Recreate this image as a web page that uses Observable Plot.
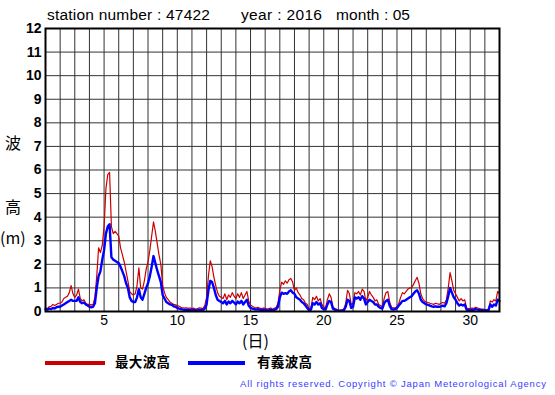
<!DOCTYPE html>
<html>
<head>
<meta charset="utf-8">
<script src="https://cdn.jsdelivr.net/npm/d3@7"></script>
<script src="https://cdn.jsdelivr.net/npm/@observablehq/plot@0.6"></script>
<style>
  html, body { margin: 0; padding: 0; background: #fff; }
  #wrap { position: relative; width: 555px; height: 395px; overflow: hidden; font-family: "Liberation Sans", Arial, sans-serif; }
  #wrap svg { position: absolute; left: 0; top: 0; }
  .t { position: absolute; white-space: nowrap; line-height: 1; }
</style>
</head>
<body>
<div id="wrap"></div>
<script>
// Title parts
const stationText = "station number : 47422";
const yearText = "year : 2016";
const monthText = "month : 05";
const yLabelParts = ["波", "高", "(m)"];
const xLabel = "(日)";
const seriesNames = ["最大波高", "有義波高"];
const seriesColors = ["#cc0000", "#0000ff"];
const copyright = "All rights reserved. Copyright © Japan Meteorological Agency";

// Axes
const xTicks = [5, 10, 15, 20, 25, 30];
const yTicks = [0, 1, 2, 3, 4, 5, 6, 7, 8, 9, 10, 11, 12];
const xGrid = [2,3,4,5,6,7,8,9,10,11,12,13,14,15,16,17,18,19,20,21,22,23,24,25,26,27,28,29,30,31];
const yGrid = [1,2,3,4,5,6,7,8,9,10,11];

// Samples every 3 hours starting at day 1 00:00 (8 per day)
const maxWave = [
  0.15,0.12,0.20,0.22,0.30,0.25,0.30,0.35,  // 1
  0.35,0.40,0.55,0.60,0.65,0.80,1.10,0.75,  // 2
  0.60,0.70,0.95,0.55,0.45,0.50,0.35,0.30,  // 3
  0.30,0.28,0.30,0.60,1.50,2.70,2.50,2.80,  // 4
  3.60,5.20,5.80,5.90,3.60,3.30,3.40,3.30,  // 5
  3.20,2.70,2.40,2.10,1.70,1.30,0.85,0.75,  // 6
  0.70,0.75,1.10,1.85,1.00,0.95,1.30,1.80,  // 7
  2.10,2.60,3.20,3.80,3.40,2.90,2.40,2.00,  // 8
  1.10,0.80,0.60,0.50,0.40,0.35,0.30,0.28,  // 9
  0.25,0.22,0.18,0.15,0.14,0.16,0.13,0.15,  // 10
  0.12,0.14,0.10,0.12,0.16,0.14,0.12,0.25,  // 11
  0.60,1.50,2.15,1.90,1.45,1.10,0.80,0.65,  // 12
  0.60,0.55,0.75,0.50,0.70,0.60,0.80,0.65,  // 13
  0.55,0.75,0.60,0.80,0.55,0.70,0.85,0.45,  // 14
  0.28,0.22,0.18,0.15,0.18,0.14,0.12,0.15,  // 15
  0.13,0.10,0.12,0.15,0.10,0.13,0.18,0.35,  // 16
  0.90,1.25,1.15,1.30,1.20,1.35,1.40,1.25,  // 17
  0.90,1.00,0.80,0.70,0.55,0.50,0.35,0.30,  // 18
  0.10,0.15,0.60,0.50,0.65,0.45,0.55,0.30,  // 19
  0.20,0.15,0.50,0.75,0.60,0.20,0.12,0.10,  // 20
  0.05,0.05,0.06,0.10,0.35,0.90,0.75,0.30,  // 21
  0.35,0.80,0.75,0.85,0.70,0.95,0.85,0.45,  // 22
  0.60,0.85,0.70,0.60,0.45,0.50,0.30,0.25,  // 23
  0.20,0.55,0.80,0.85,0.40,0.18,0.15,0.15,  // 24
  0.20,0.35,0.60,0.80,0.75,0.85,0.95,1.00,  // 25
  1.00,1.15,1.30,1.45,1.20,0.75,0.55,0.45,  // 26
  0.40,0.38,0.35,0.33,0.30,0.35,0.33,0.30,  // 27
  0.35,0.38,0.35,0.50,1.00,1.65,1.30,0.90,  // 28
  0.75,0.60,0.45,0.55,0.45,0.50,0.15,0.12,  // 29
  0.12,0.15,0.13,0.18,0.15,0.12,0.10,0.10,  // 30
  0.08,0.06,0.10,0.45,0.40,0.50,0.45,0.85,  // 31
  0.75                                      // 32 00:00
];
const sigWave = [
  0.10,0.08,0.12,0.10,0.15,0.13,0.18,0.20,  // 1
  0.20,0.25,0.30,0.35,0.40,0.45,0.50,0.45,  // 2
  0.45,0.45,0.60,0.40,0.35,0.38,0.30,0.25,  // 3
  0.20,0.18,0.20,0.35,1.00,1.50,1.70,2.20,  // 4
  2.60,3.30,3.60,3.70,2.30,2.20,2.15,2.10,  // 5
  2.05,1.90,1.70,1.50,1.20,1.00,0.60,0.45,  // 6
  0.40,0.40,0.60,0.95,0.60,0.50,0.75,1.00,  // 7
  1.20,1.50,1.90,2.35,2.05,1.75,1.50,1.25,  // 8
  0.70,0.55,0.40,0.35,0.30,0.28,0.22,0.20,  // 9
  0.15,0.12,0.10,0.08,0.07,0.08,0.06,0.07,  // 10
  0.06,0.07,0.05,0.06,0.08,0.07,0.06,0.12,  // 11
  0.30,0.90,1.30,1.25,1.00,0.70,0.50,0.45,  // 12
  0.40,0.35,0.45,0.30,0.42,0.35,0.45,0.38,  // 13
  0.30,0.42,0.35,0.45,0.30,0.40,0.50,0.25,  // 14
  0.15,0.12,0.10,0.08,0.10,0.07,0.06,0.08,  // 15
  0.07,0.05,0.06,0.08,0.05,0.07,0.10,0.20,  // 16
  0.60,0.80,0.75,0.78,0.75,0.85,0.90,0.80,  // 17
  0.75,0.60,0.55,0.50,0.40,0.35,0.25,0.15,  // 18
  0.05,0.08,0.35,0.30,0.40,0.30,0.35,0.15,  // 19
  0.10,0.08,0.30,0.45,0.40,0.12,0.08,0.05,  // 20
  0.03,0.03,0.04,0.06,0.20,0.50,0.45,0.15,  // 21
  0.20,0.60,0.55,0.60,0.50,0.65,0.55,0.30,  // 22
  0.40,0.50,0.45,0.40,0.30,0.30,0.20,0.15,  // 23
  0.12,0.35,0.45,0.50,0.25,0.10,0.08,0.10,  // 24
  0.15,0.25,0.35,0.45,0.45,0.50,0.55,0.60,  // 25
  0.65,0.75,0.85,0.90,0.75,0.50,0.40,0.35,  // 26
  0.30,0.28,0.25,0.22,0.20,0.22,0.20,0.20,  // 27
  0.22,0.25,0.22,0.35,0.65,1.00,0.80,0.60,  // 28
  0.50,0.35,0.25,0.30,0.25,0.30,0.08,0.06,  // 29
  0.06,0.08,0.07,0.10,0.08,0.07,0.05,0.05,  // 30
  0.04,0.04,0.06,0.30,0.20,0.30,0.25,0.50,  // 31
  0.45                                      // 32 00:00
];

const rows = maxWave.map((v, i) => ({t: 1 + i / 8, max: v, sig: sigWave[i]}));

const L = 45, R = 499, T = 28, B = 311;

const chart = Plot.plot({
  width: 555,
  height: 395,
  marginLeft: L,
  marginRight: 555 - R,
  marginTop: T,
  marginBottom: 395 - B,
  style: {background: "transparent", fontFamily: "'Liberation Sans', Arial, sans-serif", color: "#000", overflow: "visible"},
  x: {domain: [1, 32], axis: null},
  y: {domain: [0, 12], axis: null},
  marks: [
    Plot.gridX(xGrid, {stroke: "#333", strokeOpacity: 1, strokeWidth: 1}),
    Plot.gridY(yGrid, {stroke: "#333", strokeOpacity: 1, strokeWidth: 1}),
    Plot.lineY(rows, {x: "t", y: "max", stroke: seriesColors[0], strokeWidth: 1.2}),
    Plot.lineY(rows, {x: "t", y: "sig", stroke: seriesColors[1], strokeWidth: 2.4}),
    Plot.frame({stroke: "#000", strokeWidth: 2}),
    Plot.axisX(xTicks, {tickSize: 0, tickPadding: 4, fontSize: 14, tickFormat: d => String(d), label: null}),
    Plot.axisY(yTicks, {tickSize: 0, tickPadding: 4, fontSize: 14, fontWeight: "bold", tickFormat: d => String(d), label: null})
  ]
});

const wrap = document.getElementById("wrap");
wrap.appendChild(chart);

function addText(txt, left, top, css, targetWidth) {
  const d = document.createElement("div");
  d.className = "t";
  d.textContent = txt;
  d.style.left = left + "px";
  d.style.top = top + "px";
  Object.assign(d.style, css || {});
  wrap.appendChild(d);
  if (targetWidth) {
    const w = d.getBoundingClientRect().width;
    const n = Math.max(1, txt.length - 1);
    d.style.letterSpacing = ((targetWidth - w) / n) + "px";
  }
  return d;
}
const titleCss = {fontSize: "15.5px"};
addText(stationText, 47, 7, titleCss, 163);
addText(yearText, 241, 7, titleCss, 81);
addText(monthText, 336, 7, titleCss, 74);

const cjk = "'Noto Sans CJK JP', 'Noto Sans', sans-serif";
addText(yLabelParts[0], 5, 134, {fontSize: "16px", fontFamily: cjk});
addText(yLabelParts[1], 5, 198, {fontSize: "16px", fontFamily: cjk});
addText(yLabelParts[2], 0, 229, {fontSize: "16px", fontFamily: cjk});
addText(xLabel, 242, 333, {fontSize: "16px", lineHeight: "14px", fontFamily: cjk});

function legendItem(x1, x2, textX, color, name) {
  const ln = document.createElement("div");
  ln.style.position = "absolute";
  ln.style.left = x1 + "px";
  ln.style.top = "361px";
  ln.style.width = (x2 - x1) + "px";
  ln.style.height = "4px";
  ln.style.background = color;
  wrap.appendChild(ln);
  addText(name, textX, 355, {fontSize: "13.5px", fontWeight: "bold", fontFamily: cjk}, 55);
}
legendItem(45, 105, 115, seriesColors[0], seriesNames[0]);
legendItem(188, 245, 257, seriesColors[1], seriesNames[1]);

addText(copyright, 240, 379, {fontSize: "9.5px", color: "#3a3aff", fontFamily: "'Liberation Sans', sans-serif"}, 306);
</script>
</body>
</html>
